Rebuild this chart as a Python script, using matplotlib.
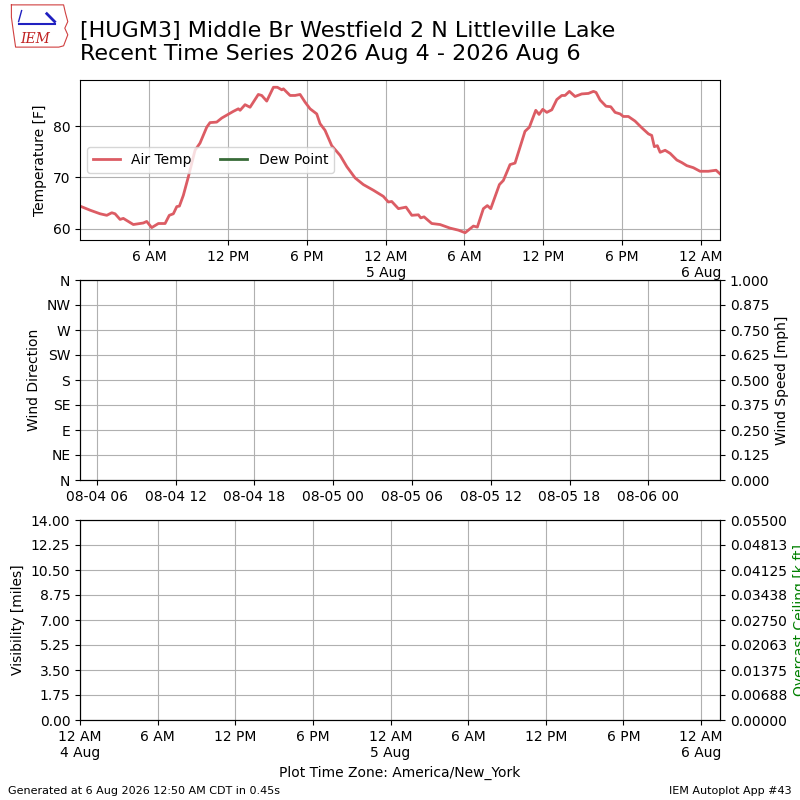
import datetime
import numpy as np
import matplotlib
matplotlib.use("Agg")
import matplotlib.pyplot as plt
import matplotlib.dates as mdates
from matplotlib.ticker import FixedLocator, FuncFormatter, FormatStrFormatter

# hours since 4 Aug 2026 00:00 (America/New_York) and air temperature [F]
hours = [0.72, 1.49, 2.25, 2.76, 3.14, 3.39, 3.77, 4.02, 4.78, 5.54,
         5.80, 6.18, 6.69, 7.20, 7.52, 7.83, 8.09, 8.29, 8.59, 8.97,
         9.48, 9.86, 10.37, 10.62, 11.13, 11.52, 12.40, 12.78, 12.91, 13.29,
         13.67, 14.30, 14.56, 14.94, 15.45, 15.75, 16.09, 16.21, 16.72, 17.10,
         17.48, 17.86, 18.24, 18.75, 19.00, 19.38, 19.89, 20.53, 21.04, 21.67,
         22.30, 23.06, 23.82, 24.20, 24.46, 24.97, 25.55, 25.99, 26.49, 26.67,
         26.92, 27.51, 28.14, 28.90, 29.54, 30.05, 30.68, 30.98, 31.44, 31.74,
         32.00, 32.66, 32.96, 33.47, 33.85, 34.61, 34.94, 35.43, 35.68, 35.96,
         36.27, 36.65, 37.03, 37.41, 37.66, 37.99, 38.42, 38.93, 39.44, 39.82,
         40.02, 40.33, 40.78, 41.14, 41.47, 41.85, 42.10, 42.48, 42.99, 43.50,
         44.01, 44.26, 44.46, 44.69, 44.90, 45.28, 45.66, 46.17, 46.55, 46.93,
         47.43, 47.94, 48.57, 49.16, 49.46]
temps = [64.4, 63.6, 62.9, 62.6, 63.1, 62.9, 61.8, 62.0, 60.8, 61.1,
         61.4, 60.2, 61.0, 61.0, 62.6, 62.9, 64.3, 64.4, 66.5, 70.1,
         75.3, 76.7, 79.8, 80.7, 80.8, 81.6, 82.9, 83.4, 83.1, 84.2,
         83.7, 86.2, 86.0, 84.9, 87.6, 87.6, 87.1, 87.3, 86.0, 86.0,
         86.2, 84.7, 83.4, 82.4, 80.5, 79.2, 76.2, 74.3, 72.1, 69.9,
         68.6, 67.5, 66.3, 65.2, 65.3, 63.9, 64.2, 62.6, 62.7, 62.1,
         62.3, 61.0, 60.8, 60.1, 59.7, 59.2, 60.5, 60.3, 63.9, 64.5,
         63.9, 68.6, 69.4, 72.5, 72.8, 79.0, 79.8, 83.1, 82.3, 83.3,
         82.7, 83.2, 85.2, 86.0, 86.0, 86.8, 85.8, 86.3, 86.4, 86.8,
         86.6, 85.1, 83.9, 83.8, 82.7, 82.4, 81.9, 81.9, 81.0, 79.7,
         78.5, 78.2, 76.0, 76.2, 74.9, 75.3, 74.7, 73.4, 72.9, 72.3,
         71.9, 71.2, 71.2, 71.4, 70.7]

wind_labels = ["N", "NE", "E", "SE", "S", "SW", "W", "NW", "N"]
title = ("[HUGM3] Middle Br Westfield 2 N Littleville Lake\n"
         "Recent Time Series 2026 Aug 4 - 2026 Aug 6")
utc_offset = 4  # EDT -> UTC

base = datetime.datetime(2026, 8, 4)
times = [base + datetime.timedelta(hours=h) for h in hours]


def local_fmt(x, pos=None):
    d = mdates.num2date(x)
    if d.hour == 0:
        return "12 AM\n%d Aug" % d.day
    if d.hour == 12:
        return "12 PM"
    return "%d %s" % (d.hour % 12, "AM" if d.hour < 12 else "PM")


fig = plt.figure(figsize=(8, 8), dpi=100)
fig.text(0.1, 0.974, title, fontsize=16, va="top", ha="left", linespacing=1.2)

# --- temperature
ax1 = fig.add_axes([0.1, 0.70, 0.8, 0.20])
ax1.plot(times, temps, color="#dc5c64", lw=2, label="Air Temp")
ax1.plot([], [], color="#386b38", lw=2, label="Dew Point")
ax1.set_xlim(times[0], times[-1])
ax1.set_ylabel("Temperature [F]")
ax1.grid(True)
ax1.legend(loc="center left", ncol=2)
ax1.xaxis.set_major_locator(mdates.HourLocator(byhour=[0, 6, 12, 18]))
ax1.xaxis.set_major_formatter(FuncFormatter(local_fmt))

# --- wind
ax2 = fig.add_axes([0.1, 0.40, 0.8, 0.25])
shift = datetime.timedelta(hours=utc_offset)
ax2.set_xlim(times[0] + shift, times[-1] + shift)
ax2.set_ylim(0, 360)
ax2.yaxis.set_major_locator(FixedLocator(np.arange(0, 361, 45)))
ax2.set_yticklabels(wind_labels)
ax2.set_ylabel("Wind Direction")
ax2.xaxis.set_major_locator(mdates.HourLocator(byhour=[0, 6, 12, 18]))
ax2.xaxis.set_major_formatter(mdates.DateFormatter("%m-%d %H"))
ax2.grid(True)
ax2b = ax2.twinx()
ax2b.set_ylim(0, 1)
ax2b.yaxis.set_major_locator(FixedLocator(np.linspace(0, 1, 9)))
ax2b.yaxis.set_major_formatter(FormatStrFormatter("%.3f"))
ax2b.set_ylabel("Wind Speed [mph]")

# --- visibility / ceiling
ax3 = fig.add_axes([0.1, 0.10, 0.8, 0.25])
ax3.set_xlim(base, times[-1])
ax3.set_ylim(0, 14)
ax3.yaxis.set_major_locator(FixedLocator(np.linspace(0, 14, 9)))
ax3.yaxis.set_major_formatter(FormatStrFormatter("%.2f"))
ax3.set_ylabel("Visibility [miles]")
ax3.set_xlabel("Plot Time Zone: America/New_York")
ax3.xaxis.set_major_locator(mdates.HourLocator(byhour=[0, 6, 12, 18]))
ax3.xaxis.set_major_formatter(FuncFormatter(local_fmt))
ax3.grid(True)
ax3b = ax3.twinx()
ax3b.set_ylim(0, 0.055)
ax3b.yaxis.set_major_locator(FixedLocator(np.linspace(0, 0.055, 9)))
ax3b.yaxis.set_major_formatter(FuncFormatter(lambda v, p: "%.5f" % (v + 1e-10)))
ax3b.set_ylabel("Overcast Ceiling [k ft]", color="g")

# --- logo, rough
lax = fig.add_axes([0.012, 0.94, 0.075, 0.055])
lax.set_xlim(0, 1)
lax.set_ylim(0, 1)
lax.axis("off")
ox = [0.03, 0.9, 0.93, 0.97, 0.92, 0.97, 0.9, 0.82, 0.1, 0.06, 0.03, 0.03]
oy = [0.98, 0.98, 0.8, 0.6, 0.45, 0.3, 0.05, 0.02, 0.02, 0.4, 0.7, 0.98]
lax.plot(ox, oy, color="#d04040", lw=0.8)
lax.plot([0.15, 0.75], [0.55, 0.55], color="#2020c0", lw=1.5)
lax.plot([0.62, 0.75], [0.78, 0.6], color="#2020c0", lw=2)
lax.plot([0.2, 0.15], [0.85, 0.6], color="#2020c0", lw=1)
lax.text(0.42, 0.2, "IEM", color="#c02020", fontsize=10, style="italic",
         family="DejaVu Serif", ha="center", va="center")

fig.text(0.01, 0.008, "Generated at 6 Aug 2026 12:50 AM CDT in 0.45s", fontsize=8)
fig.text(0.99, 0.008, "IEM Autoplot App #43", fontsize=8, ha="right")

fig.savefig("out.png")
